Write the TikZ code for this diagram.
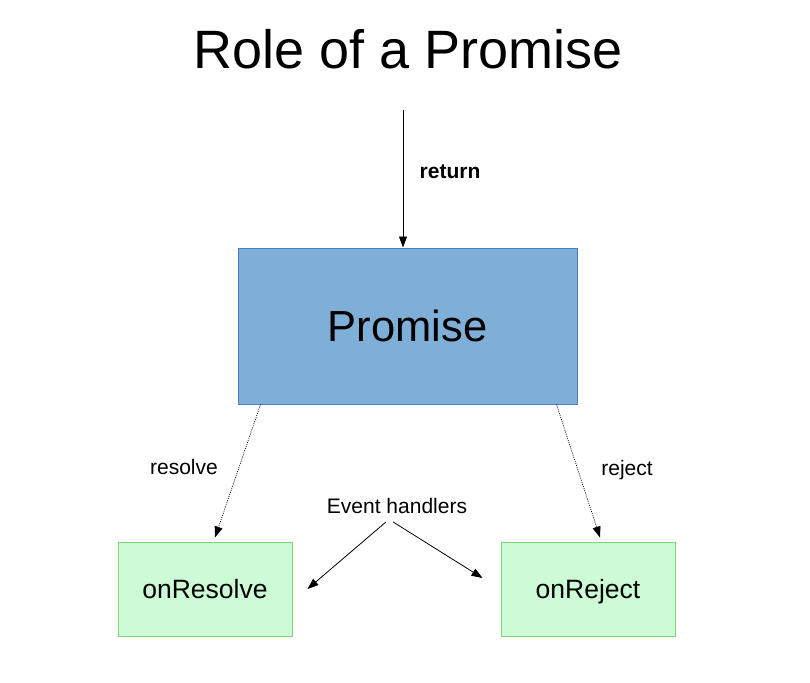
\documentclass[tikz,border=0pt]{standalone}
\usepackage{fontspec}
\setmainfont{Liberation Sans}
\usetikzlibrary{arrows.meta,calc}
\definecolor{pfill}{HTML}{7FAED6}
\definecolor{pdraw}{HTML}{4A80BC}
\definecolor{gfill}{HTML}{CCFBD5}
\definecolor{gdraw}{HTML}{80D47A}
\begin{document}
\begin{tikzpicture}[x=1pt,y=-1pt,
  tip/.style={-{Triangle[length=11pt,width=8pt]}},
  conn/.style={tip,line width=0.8pt},
  dotconn/.style={tip,line width=0.7pt,dash pattern=on 1pt off 1.2pt},
  pbox/.style={draw=pdraw,fill=pfill,line width=1pt,minimum width=339pt,minimum height=156pt,inner sep=0pt,font=\fontsize{43.5}{50}\selectfont},
  gbox/.style={draw=gdraw,fill=gfill,line width=1pt,minimum width=174pt,minimum height=94pt,inner sep=0pt,text height=21pt,text depth=3pt,font=\fontsize{26.5}{30}\selectfont},
  lbl/.style={inner sep=0pt,font=\fontsize{21}{24}\selectfont}]
\useasboundingbox (0,0) rectangle (810,682);
\node[inner sep=0pt,font=\fontsize{54}{60}\selectfont] (title) at (408,49) {Role of a Promise};
\node[pbox] (promise) at (407.5,326) {Promise};
\node[gbox] (onres) at (205,589) {onResolve};
\node[gbox] (onrej) at (588,589) {onReject};
\coordinate (rt) at (403,110);
\node[lbl,font=\fontsize{21}{24}\selectfont\bfseries] (ret) at (450,172) {return};
\node[lbl] (res) at (184,467) {resolve};
\node[lbl] (rej) at (627,470) {reject};
\node[lbl] (eh) at (397,506) {Event handlers};
\draw[conn] (rt) -- (rt |- promise.north);
\draw[dotconn] ([xshift=23pt]promise.south west) -- ([xshift=10pt,yshift=4pt]onres.north);
\draw[dotconn] ([xshift=-21pt]promise.south east) -- ([xshift=12pt,yshift=4pt]onrej.north);
\draw[conn] ([xshift=-11pt,yshift=-8pt]eh.south) -- ([xshift=15pt]onres.east);
\draw[conn] ([xshift=-4pt,yshift=-8pt]eh.south) -- ([xshift=-18pt,yshift=11pt]onrej.west);
\end{tikzpicture}
\end{document}
